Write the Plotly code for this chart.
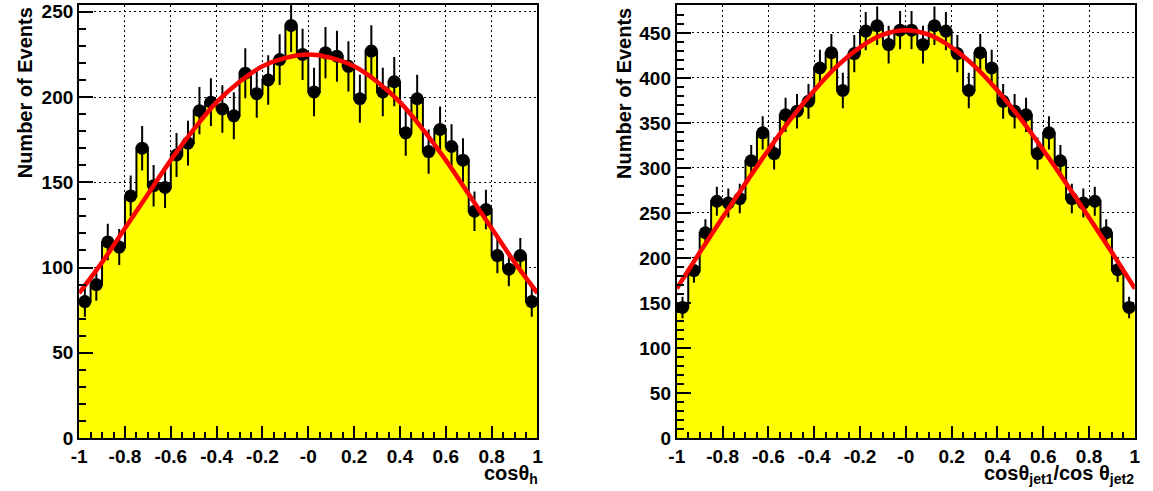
import numpy as np
import plotly.graph_objects as go

# ---------------- data ----------------
n_bins = 40
x_min, x_max = -1.0, 1.0

left_counts = [80, 90, 115, 112, 142, 170, 148, 147, 166, 173,
               192, 197, 193, 189, 214, 202, 210, 222, 242, 225,
               203, 226, 224, 218, 199, 227, 203, 209, 179, 199,
               168, 181, 171, 163, 133, 134, 107, 99, 107, 80]

right_counts = [145, 186, 228, 263, 261, 266, 308, 339, 316, 359,
                363, 374, 411, 428, 386, 427, 452, 458, 437, 453,
                453, 437, 458, 452, 427, 386, 428, 411, 374, 363,
                359, 316, 339, 308, 266, 261, 263, 228, 187, 145]

fit_x = [-1.0, -0.9, -0.8, -0.7, -0.6, -0.5, -0.4, -0.3, -0.2, -0.1, 0.0,
         0.1, 0.2, 0.3, 0.4, 0.5, 0.6, 0.7, 0.8, 0.9, 1.0]
left_fit = [85, 103, 123, 143, 163, 181, 197, 209, 218, 223, 225,
            223, 218, 209, 197, 181, 163, 143, 123, 103, 85]
right_fit = [166, 206, 245, 283, 320, 355, 386, 413, 434, 448, 453,
             448, 434, 413, 386, 355, 320, 283, 245, 206, 166]

x_tickvals = [-1, -0.8, -0.6, -0.4, -0.2, 0, 0.2, 0.4, 0.6, 0.8, 1]
x_ticktext = ["-1", "-0.8", "-0.6", "-0.4", "-0.2", "-0", "0.2", "0.4", "0.6", "0.8", "1"]
left_yticks = [0, 50, 100, 150, 200, 250]
right_yticks = [0, 50, 100, 150, 200, 250, 300, 350, 400, 450]

y_title = "Number of Events"
left_x_title = "cosθ<sub>h</sub>"
right_x_title = "cosθ<sub>jet1</sub>/cos θ<sub>jet2</sub>"

# ---------------- figure ----------------
W, H = 1153, 491
M_T, M_B = 5, 53
edges = np.linspace(x_min, x_max, n_bins + 1)
centers = 0.5 * (edges[:-1] + edges[1:])

fig = go.Figure()


def add_panel(counts, fit, xa, ya):
    counts = np.asarray(counts, dtype=float)
    step_x = np.append(edges[:-1], edges[-1])
    step_y = np.append(counts, counts[-1])
    fig.add_trace(go.Scatter(
        x=step_x, y=step_y, mode="lines", line_shape="hv",
        line=dict(color="black", width=2),
        fill="tozeroy", fillcolor="#ffff00",
        xaxis=xa, yaxis=ya, hoverinfo="skip"))
    fig.add_trace(go.Scatter(
        x=centers, y=counts, mode="markers",
        marker=dict(color="black", size=13),
        error_y=dict(type="data", array=np.sqrt(counts), color="black",
                     thickness=2, width=0),
        xaxis=xa, yaxis=ya))
    fig.add_trace(go.Scatter(
        x=fit_x, y=fit, mode="lines", line_shape="spline",
        line=dict(color="#ff0000", width=4.5),
        xaxis=xa, yaxis=ya))


add_panel(left_counts, left_fit, "x", "y")
add_panel(right_counts, right_fit, "x2", "y2")

tickfont = dict(family="Liberation Sans, Arial, sans-serif", size=19,
                color="black", weight="bold")

common_x = dict(range=[x_min, x_max], tickvals=x_tickvals, ticktext=x_ticktext,
                ticks="inside", ticklen=12, tickwidth=1.5, tickcolor="black",
                minor=dict(dtick=0.05, tick0=-1, ticks="inside", ticklen=6,
                           tickwidth=1.5, tickcolor="black", showgrid=False),
                showgrid=True, gridcolor="black", griddash="2px,3px", gridwidth=1,
                showline=True, linecolor="black", linewidth=2, mirror=True,
                zeroline=False, tickfont=tickfont, fixedrange=True)

common_y = dict(ticks="inside", ticklen=14, tickwidth=1.5, tickcolor="black",
                minor=dict(dtick=10, ticks="inside", ticklen=7, tickwidth=1.5,
                           tickcolor="black", showgrid=False),
                showgrid=True, gridcolor="black", griddash="2px,3px", gridwidth=1,
                showline=True, linecolor="black", linewidth=2, mirror=True,
                zeroline=False, tickfont=tickfont, fixedrange=True)

fig.update_layout(
    width=W, height=H, autosize=False,
    margin=dict(l=0, r=0, t=M_T, b=M_B, pad=0),
    paper_bgcolor="white", plot_bgcolor="white",
    showlegend=False,
    xaxis=dict(domain=[72 / W, 536 / W], anchor="y", **common_x),
    yaxis=dict(domain=[0, 1], anchor="x", range=[0, 254],
               tickvals=left_yticks, **common_y),
    xaxis2=dict(domain=[677 / W, 1140.7 / W], anchor="y2", **common_x),
    yaxis2=dict(domain=[0, 1], anchor="x2", range=[0, 481],
                tickvals=right_yticks, **common_y),
)

plot_h = H - M_T - M_B


def py(pix):
    return (H - M_B - pix) / plot_h


title_font = dict(family="Liberation Sans, Arial, sans-serif", size=20,
                  color="black", weight="bold")

fig.add_annotation(text=y_title, xref="paper", yref="paper",
                   x=17.5 / W, y=py(93), textangle=-90, showarrow=False,
                   xanchor="center", yanchor="middle", font=title_font)
fig.add_annotation(text=y_title, xref="paper", yref="paper",
                   x=623.5 / W, y=py(93), textangle=-90, showarrow=False,
                   xanchor="center", yanchor="middle", font=title_font)
fig.add_annotation(text=left_x_title, xref="paper", yref="paper",
                   x=539 / W, y=py(460), showarrow=False,
                   xanchor="right", yanchor="top", font=title_font)
fig.add_annotation(text=right_x_title, xref="paper", yref="paper",
                   x=1142 / W, y=py(460), showarrow=False,
                   xanchor="right", yanchor="top", font=title_font)

fig.write_html("out.html")
